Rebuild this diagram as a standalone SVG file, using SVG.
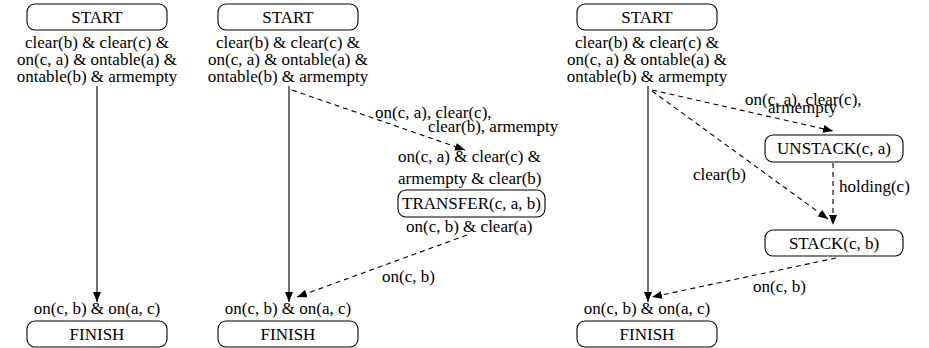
<svg xmlns="http://www.w3.org/2000/svg" width="929" height="348" viewBox="0 0 929 348">
  <style>
    text { font-family: 'Liberation Serif', 'DejaVu Serif', serif; font-size: 17px; fill: #000; }
    .c { text-anchor: middle; }
    .box { fill: #fff; stroke: #000; stroke-width: 1.1; }
    .edge { fill: none; stroke: #000; stroke-width: 1.1; }
    .dash { stroke-dasharray: 5 4; }
  </style>
  <defs>
    <marker id="arrow" viewBox="0 0 10 8" refX="10" refY="4" markerWidth="10" markerHeight="8" markerUnits="userSpaceOnUse" orient="auto">
      <path d="M0,0 L10,4 L0,8 z" fill="#000"/>
    </marker>
  </defs>

  <g font-family="Liberation Serif, DejaVu Serif, serif" font-size="17">
  <!-- Plan 1: empty plan -->
  <g id="p1-start">
    <rect class="box" x="27" y="4" width="140" height="26" rx="8"/>
    <text class="c" x="97" y="23">START</text>
    <text class="c" x="97" y="48">clear(b) &amp; clear(c) &amp;</text>
    <text class="c" x="97" y="65">on(c, a) &amp; ontable(a) &amp;</text>
    <text class="c" x="97" y="82">ontable(b) &amp; armempty</text>
  </g>
  <g id="p1-finish">
    <text class="c" x="97" y="314">on(c, b) &amp; on(a, c)</text>
    <rect class="box" x="27" y="321" width="140" height="26" rx="8"/>
    <text class="c" x="97" y="340">FINISH</text>
  </g>

  <!-- Plan 2: single TRANSFER step -->
  <g id="p2-start">
    <rect class="box" x="218" y="4" width="140" height="26" rx="8"/>
    <text class="c" x="288" y="23">START</text>
    <text class="c" x="288" y="48">clear(b) &amp; clear(c) &amp;</text>
    <text class="c" x="288" y="65">on(c, a) &amp; ontable(a) &amp;</text>
    <text class="c" x="288" y="82">ontable(b) &amp; armempty</text>
  </g>
  <g id="p2-transfer">
    <text x="398" y="162">on(c, a) &amp; clear(c) &amp;</text>
    <text x="398" y="184">armempty &amp; clear(b)</text>
    <rect class="box" x="398" y="190" width="147" height="27" rx="8"/>
    <text class="c" x="471.5" y="209">TRANSFER(c, a, b)</text>
    <text x="406" y="232">on(c, b) &amp; clear(a)</text>
  </g>
  <g id="p2-finish">
    <text class="c" x="288" y="314">on(c, b) &amp; on(a, c)</text>
    <rect class="box" x="218" y="321" width="140" height="26" rx="8"/>
    <text class="c" x="288" y="340">FINISH</text>
  </g>

  <!-- Plan 3: UNSTACK then STACK -->
  <g id="p3-start">
    <rect class="box" x="577" y="4" width="140" height="26" rx="8"/>
    <text class="c" x="647" y="23">START</text>
    <text class="c" x="647" y="48">clear(b) &amp; clear(c) &amp;</text>
    <text class="c" x="647" y="65">on(c, a) &amp; ontable(a) &amp;</text>
    <text class="c" x="647" y="82">ontable(b) &amp; armempty</text>
  </g>
  <g id="p3-unstack">
    <rect class="box" x="765" y="135" width="138" height="27" rx="8"/>
    <text class="c" x="834" y="154">UNSTACK(c, a)</text>
  </g>
  <g id="p3-stack">
    <rect class="box" x="765" y="230" width="138" height="26" rx="8"/>
    <text class="c" x="834" y="249">STACK(c, b)</text>
  </g>
  <g id="p3-finish">
    <text class="c" x="647" y="314">on(c, b) &amp; on(a, c)</text>
    <rect class="box" x="577" y="321" width="140" height="26" rx="8"/>
    <text class="c" x="647" y="340">FINISH</text>
  </g>

  <!-- Connectors -->
  <g id="connectors">
    <line class="edge" x1="97" y1="86" x2="97" y2="302" marker-end="url(#arrow)"/>

    <line class="edge" x1="289" y1="86" x2="289" y2="302" marker-end="url(#arrow)"/>
    <line class="edge dash" x1="292" y1="90" x2="465" y2="150" marker-end="url(#arrow)"/>
    <text x="375" y="118">on(c, a), clear(c),</text>
    <text x="428" y="132">clear(b), armempty</text>
    <line class="edge dash" x1="467" y1="235" x2="297" y2="297" marker-end="url(#arrow)"/>
    <text x="382" y="282">on(c, b)</text>

    <line class="edge" x1="648" y1="86" x2="648" y2="302" marker-end="url(#arrow)"/>
    <line class="edge dash" x1="652" y1="90" x2="833" y2="131" marker-end="url(#arrow)"/>
    <text x="745" y="105">on(c, a), clear(c),</text>
    <text x="768" y="113">armempty</text>
    <line class="edge dash" x1="652" y1="91" x2="828" y2="219" marker-end="url(#arrow)"/>
    <text x="693" y="180">clear(b)</text>
    <line class="edge dash" x1="833" y1="163" x2="833" y2="225" marker-end="url(#arrow)"/>
    <text x="839" y="192">holding(c)</text>
    <line class="edge dash" x1="836" y1="258" x2="652" y2="297" marker-end="url(#arrow)"/>
    <text x="753" y="292">on(c, b)</text>
  </g>
  </g>
</svg>
